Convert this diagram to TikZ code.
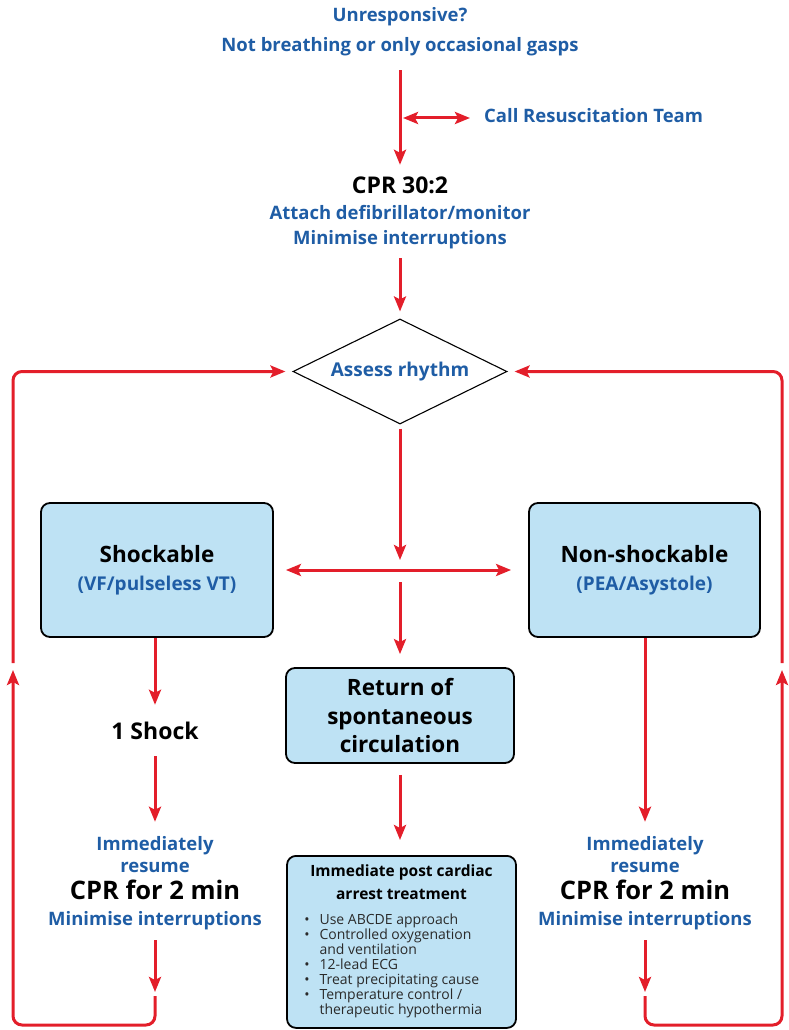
\documentclass[tikz,border=0pt]{standalone}
\usepackage{fontspec}
\setmainfont{Open Sans}
\usetikzlibrary{arrows.meta,positioning,shapes.geometric}
\definecolor{alsred}{HTML}{E31E2A}
\definecolor{alsblue}{HTML}{1F5DA5}
\definecolor{alsfill}{HTML}{BEE2F4}
\definecolor{alsgrey}{HTML}{2A2A2A}
\tikzset{
  bluetxt/.style = {text=alsblue, font=\fontsize{18.5}{22}\selectfont\bfseries,
                    inner sep=0pt, text height=14pt, text depth=4pt},
  blktxt/.style  = {text=black, font=\fontsize{23}{27}\selectfont\bfseries,
                    inner sep=0pt, text height=17pt, text depth=5pt},
  cprtxt/.style  = {text=black, font=\fontsize{25.5}{30}\selectfont\bfseries,
                    inner sep=0pt, text height=19pt, text depth=6pt},
  box/.style     = {draw=black, line width=1.8pt, rounded corners=9pt, fill=alsfill,
                    align=center, inner sep=4pt},
  rhythm/.style  = {draw=black, line width=1.1pt, diamond, aspect=2, inner sep=0pt,
                    minimum width=214pt, minimum height=105pt,
                    text=alsblue, font=\fontsize{19}{22}\selectfont\bfseries},
  ar/.style      = {-{Stealth[length=15pt, width=12pt, inset=3pt]}, alsred, line width=3pt},
  dar/.style     = {{Stealth[length=15pt, width=12pt, inset=3pt]}-{Stealth[length=15pt, width=12pt, inset=3pt]},
                    alsred, line width=3pt},
  ret/.style     = {-{Stealth[length=15pt, width=12pt, inset=3pt]}, alsred, line width=3pt,
                    rounded corners=9pt}
}
\begin{document}
\begin{tikzpicture}[x=1pt, y=-1pt]
  \useasboundingbox (0,0) rectangle (788,1030);

  % top of the algorithm
  \node[bluetxt] (unresp) at (400,17) {Unresponsive?};
  \node[bluetxt] (notbr)  at (400,47) {Not breathing or only occasional gasps};
  \coordinate (callj) at (400,118);
  \node[bluetxt, anchor=west] (call) at (484,118) {Call Resuscitation Team};
  \node[blktxt]  (cpr)    at (400,187) {CPR 30:2};
  \node[bluetxt] (attach) at (400,214) {Attach defibrillator/monitor};
  \node[bluetxt] (minim)  at (400,239) {Minimise interruptions};
  \node[rhythm]  (assess) at (400,371.5) {Assess rhythm};
  \coordinate (cross) at (400,570);

  % the three boxes
  \node[box, minimum width=232pt, minimum height=134pt, font=\fontsize{22.5}{28}\selectfont\bfseries]
        (shock) at (157,570)
        {Shockable\\{\color{alsblue}\fontsize{19}{28}\selectfont (VF/pulseless VT)}};
  \node[box, minimum width=231pt, minimum height=134pt, font=\fontsize{22.5}{28}\selectfont\bfseries]
        (nonshock) at (644.5,570)
        {Non-shockable\\{\color{alsblue}\fontsize{19}{28}\selectfont (PEA/Asystole)}};
  \node[box, minimum width=228pt, minimum height=95pt, font=\fontsize{22.5}{28.5}\selectfont\bfseries]
        (rosc) at (400,715.5) {Return of\\spontaneous\\circulation};
  \node[box, anchor=north, minimum width=229pt, minimum height=172pt, inner sep=0pt,
        font=\fontsize{14}{15}\selectfont] (post) at (401.5,855)
        {\begin{tabular}{@{}c@{\hspace{10pt}}l@{}}
           \multicolumn{2}{c}{\fontsize{15.5}{19}\selectfont\bfseries Immediate post cardiac}\\[8pt]
           \multicolumn{2}{c}{\fontsize{15.5}{19}\selectfont\bfseries arrest treatment}\\[10pt]
           \color{alsgrey}\textbullet & \color{alsgrey}Use ABCDE approach\\
           \color{alsgrey}\textbullet & \color{alsgrey}Controlled oxygenation\\
                       & \color{alsgrey}and ventilation\\
           \color{alsgrey}\textbullet & \color{alsgrey}12-lead ECG\\
           \color{alsgrey}\textbullet & \color{alsgrey}Treat precipitating cause\\
           \color{alsgrey}\textbullet & \color{alsgrey}Temperature control /\\
                       & \color{alsgrey}therapeutic hypothermia
         \end{tabular}};

  % shockable side
  \node[blktxt]  (oneshock) at (155,733) {1 Shock};
  \node[bluetxt] (limm)  at (155,845) {Immediately};
  \node[bluetxt] (lres)  at (155,867) {resume};
  \node[cprtxt]  (lcpr)  at (155,893) {CPR for 2 min};
  \node[bluetxt] (lmin)  at (155,920) {Minimise interruptions};
  \coordinate (lgap) at (155,996);
  \coordinate (lfar) at (13,1025);
  \coordinate (lup)  at (13,670);

  % non-shockable side
  \node[bluetxt] (rimm)  at (645,845) {Immediately};
  \node[bluetxt] (rres)  at (645,867) {resume};
  \node[cprtxt]  (rcpr)  at (645,893) {CPR for 2 min};
  \node[bluetxt] (rmin)  at (645,920) {Minimise interruptions};
  \coordinate (rgap) at (645,996);
  \coordinate (rfar) at (782,1025);
  \coordinate (rup)  at (782,670);

  % connectors
  \draw[ar, shorten <=14pt, shorten >=11pt] (notbr.south) -- (cpr.north);
  \draw[dar, shorten <=3pt, shorten >=14pt] (callj) -- (call.west);
  \draw[ar, shorten <=10pt, shorten >=7pt] (minim.south) -- (assess.north);
  \draw[ar, shorten <=4pt, shorten >=10pt] (assess.south) -- (cross);
  \draw[dar, shorten <=12pt, shorten >=17pt] (shock.east) -- (nonshock.west);
  \draw[ar, shorten <=12pt, shorten >=13pt] (cross) -- (rosc.north);
  \draw[ar, shorten <=11pt, shorten >=15pt] (rosc.south) -- (rosc.south |- post.north);

  \draw[ar, shorten >=17pt] (oneshock.north |- shock.south) -- (oneshock.north);
  \draw[ar, shorten <=12pt, shorten >=14pt] (oneshock.south) -- (limm.north);
  \draw[ar, shorten <=11pt, shorten >=4pt] (lmin.south) -- (lgap);
  \draw[ret] (lgap) |- (lfar) -- (lup);
  \draw[ret, shorten <=7pt, shorten >=7pt] (lup) |- (assess.west);

  \draw[ar, shorten >=14pt] (rimm.north |- nonshock.south) -- (rimm.north);
  \draw[ar, shorten <=11pt, shorten >=4pt] (rmin.south) -- (rgap);
  \draw[ret] (rgap) |- (rfar) -- (rup);
  \draw[ret, shorten <=7pt, shorten >=7pt] (rup) |- (assess.east);
\end{tikzpicture}
\end{document}
